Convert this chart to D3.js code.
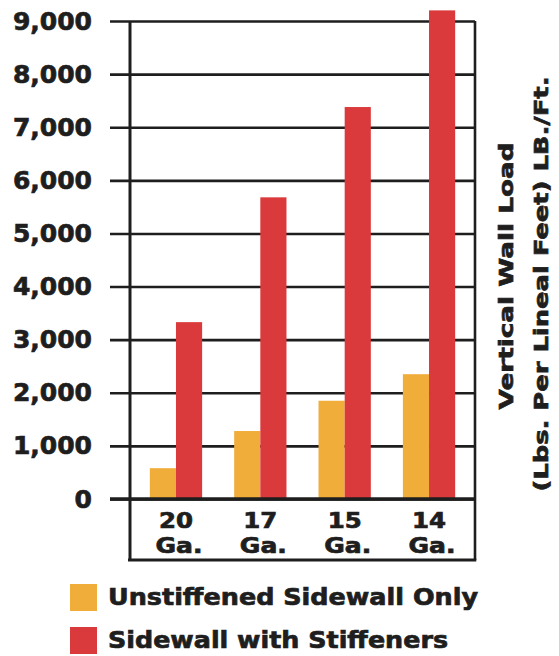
<!DOCTYPE html>
<html>
<head>
<meta charset="utf-8">
<script src="https://cdn.jsdelivr.net/npm/d3@7"></script>
<style>
  html, body { margin: 0; padding: 0; background: #fff; }
  svg { display: block; }
  text { font-family: "DejaVu Sans", "Liberation Sans", sans-serif; font-weight: bold; fill: #1e1e1e; stroke: #1e1e1e; stroke-width: 0.7px; }
</style>
</head>
<body>
<svg id="chart" width="559" height="656"></svg>
<script>
// ---- data ----
const categories = ["20", "17", "15", "14"];
const categorySuffix = "Ga.";
const unstiffened = [580, 1280, 1850, 2350];
const stiffened = [3330, 5680, 7380, 9200];
const yTicks = [0, 1000, 2000, 3000, 4000, 5000, 6000, 7000, 8000, 9000];
const seriesNames = ["Unstiffened Sidewall Only", "Sidewall with Stiffeners"];
const seriesColors = ["#F1AD3A", "#DA3A3B"];
const titleLines = ["Vertical Wall Load", "(Lbs. Per Lineal Feet) LB./Ft."];

// ---- layout ----
const svg = d3.select("#chart");
const plotLeft = 130, plotRight = 475, plotTop = 21, plotBottom = 499;
const labelBoxBottom = 560;
const ink = "#1e1e1e";

const y = d3.scaleLinear().domain([0, 9000]).range([plotBottom, plotTop]);
const x = d3.scaleBand().domain(categories).range([plotLeft, plotRight])
  .paddingInner(0.38).paddingOuter(0.235);
const bw = x.bandwidth() / 2;

// gridlines + tick labels via axis
const yAxis = d3.axisLeft(y).tickValues(yTicks).tickFormat(d3.format(",")).tickSize(20).tickPadding(18);
const gAxis = svg.append("g").attr("transform", `translate(${plotLeft},0)`).call(yAxis);
gAxis.select(".domain").remove();
gAxis.selectAll(".tick line")
  .attr("x1", -20).attr("x2", plotRight - plotLeft)
  .attr("stroke", ink).attr("stroke-width", 2.6);
gAxis.selectAll(".tick text")
  .attr("font-size", 25).attr("font-family", "DejaVu Sans").attr("font-weight", "bold")
  .attr("fill", ink).attr("text-anchor", "end").attr("x", -38);

// bars
const groups = svg.append("g").selectAll("g").data(categories).join("g");
groups.append("rect")
  .attr("x", (d) => x(d))
  .attr("width", bw)
  .attr("y", (d, i) => y(unstiffened[i]))
  .attr("height", (d, i) => y(0) - y(unstiffened[i]))
  .attr("fill", seriesColors[0]);
groups.append("rect")
  .attr("x", (d) => x(d) + bw)
  .attr("width", bw)
  .attr("y", (d, i) => y(stiffened[i]))
  .attr("height", (d, i) => y(0) - y(stiffened[i]))
  .attr("fill", seriesColors[1]);

// frame
const frame = svg.append("g").attr("stroke", ink).attr("fill", "none");
frame.append("line").attr("x1", plotLeft).attr("x2", plotLeft).attr("y1", plotTop).attr("y2", labelBoxBottom).attr("stroke-width", 3);
frame.append("line").attr("x1", plotRight).attr("x2", plotRight).attr("y1", plotTop).attr("y2", labelBoxBottom).attr("stroke-width", 2.6);
frame.append("line").attr("x1", plotLeft - 20).attr("x2", plotRight).attr("y1", y(0)).attr("y2", y(0)).attr("stroke-width", 3.5);
frame.append("line").attr("x1", plotLeft - 2).attr("x2", plotRight + 1.3).attr("y1", labelBoxBottom).attr("y2", labelBoxBottom).attr("stroke-width", 3);

// category labels
const catG = svg.append("g").selectAll("g").data(categories).join("g")
  .attr("transform", (d) => `translate(${x(d) + x.bandwidth() / 2},0)`);
catG.append("text").attr("y", 528).attr("text-anchor", "middle").attr("font-size", 21)
  .attr("textLength", 34).attr("lengthAdjust", "spacingAndGlyphs").text((d) => d);
catG.append("text").attr("x", 3).attr("y", 553).attr("text-anchor", "middle").attr("font-size", 21)
  .attr("textLength", 47).attr("lengthAdjust", "spacingAndGlyphs").text(categorySuffix);

// axis title (right, rotated)
const titleCenterY = [276, 284];
const titleX = [513, 548];
const titleLen = [267, 415];
titleLines.forEach((t, i) => {
  svg.append("text")
    .attr("transform", `translate(${titleX[i]},${titleCenterY[i]}) rotate(-90)`)
    .attr("text-anchor", "middle").attr("font-size", 20)
    .attr("textLength", titleLen[i]).attr("lengthAdjust", "spacingAndGlyphs")
    .text(t);
});

// legend
const legendY = [584, 627];
const legendLen = [370, 340];
seriesNames.forEach((name, i) => {
  svg.append("rect").attr("x", 70).attr("y", legendY[i]).attr("width", 27).attr("height", 27).attr("fill", seriesColors[i]);
  svg.append("text").attr("x", 108).attr("y", legendY[i] + 21).attr("font-size", 23)
    .attr("textLength", legendLen[i]).attr("lengthAdjust", "spacingAndGlyphs").text(name);
});
</script>
</body>
</html>
